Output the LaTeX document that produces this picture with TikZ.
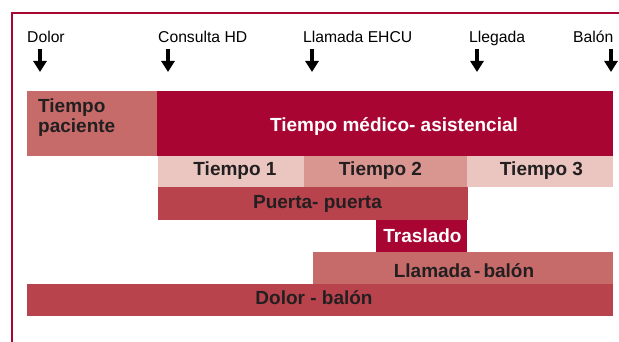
\documentclass[tikz,border=0pt]{standalone}
\usepackage{fontspec}
\setmainfont{Liberation Sans}
\usetikzlibrary{arrows.meta}
\definecolor{crimson}{HTML}{A80533}
\definecolor{rosered}{HTML}{C66B69}
\definecolor{midred}{HTML}{B8434C}
\definecolor{lightpink}{HTML}{EBC6C0}
\definecolor{midpink}{HTML}{D9958F}
\definecolor{ink}{HTML}{231F20}

\begin{document}
\begin{tikzpicture}[x=1pt, y=-1pt,
    bar/.style = {inner sep=0, outer sep=0, anchor=north west},
    txt/.style = {inner sep=0, anchor=base, text=ink, font=\fontsize{19}{20}\selectfont\bfseries},
    evt/.style = {inner sep=0, anchor=base west, text=black, font=\fontsize{15.7}{18}\selectfont},
    tick/.style = {line width=3.5pt, -{Triangle[width=13pt,length=11pt]}}]
    \useasboundingbox (0,0) rectangle (619,342);
    \draw[crimson, line width=2pt] (12,342) -- (12,13) -- (619,13);
    % events
    \node[evt] (dolor) at (27,43) {Dolor};
    \node[evt] (consulta) at (158,43) {Consulta HD};
    \node[evt] (llamada) at (303,43) {Llamada EHCU};
    \node[evt] (llegada) at (469,43) {Llegada};
    \node[evt] (balon) at (573,43) {Balón};
    \foreach \x/\n in {40/dol, 168/con, 312/lla, 477/lle, 611/bal} {
        \coordinate (\n-top) at (\x,49);
        \coordinate (\n-tip) at (\x,72);
        \draw[tick] (\n-top) -- (\n-tip);
    }
    % bars
    \node[bar, fill=rosered, minimum width=130, minimum height=65] (pac) at (27,91) {};
    \node[bar, fill=crimson, minimum width=456, minimum height=65] (med) at (157,91) {};
    \node[bar, fill=lightpink, minimum width=146, minimum height=31] (t1) at (158,156) {};
    \node[bar, fill=midpink, minimum width=163, minimum height=31] (t2) at (304,156) {};
    \node[bar, fill=lightpink, minimum width=146, minimum height=31] (t3) at (467,156) {};
    \node[bar, fill=midred, minimum width=310, minimum height=33] (pp) at (158,187) {};
    \node[bar, fill=crimson, minimum width=91, minimum height=32] (tras) at (376,220) {};
    \node[bar, fill=rosered, minimum width=300, minimum height=32] (lb) at (313,252) {};
    \node[bar, fill=midred, minimum width=586, minimum height=32] (db) at (27,284) {};
    % texts
    \node[txt, anchor=base west, align=left] (pacT) at (38,133) {Tiempo\\paciente};
    \node[txt, text=white] (medT) at (394,132) {Tiempo médico- asistencial};
    \node[txt] (t1T) at (235,176) {Tiempo 1};
    \node[txt] (t2T) at (380.5,176) {Tiempo 2};
    \node[txt] (t3T) at (541.5,176) {Tiempo 3};
    \node[txt] (ppT) at (317.5,208) {Puerta- puerta};
    \node[txt, text=white] (trT) at (422.5,242) {Traslado};
    \node[txt] (lbT) at (464,277) {Llamada\,-\,balón};
    \node[txt] (dbT) at (314,304) {Dolor - balón};
\end{tikzpicture}
\end{document}
